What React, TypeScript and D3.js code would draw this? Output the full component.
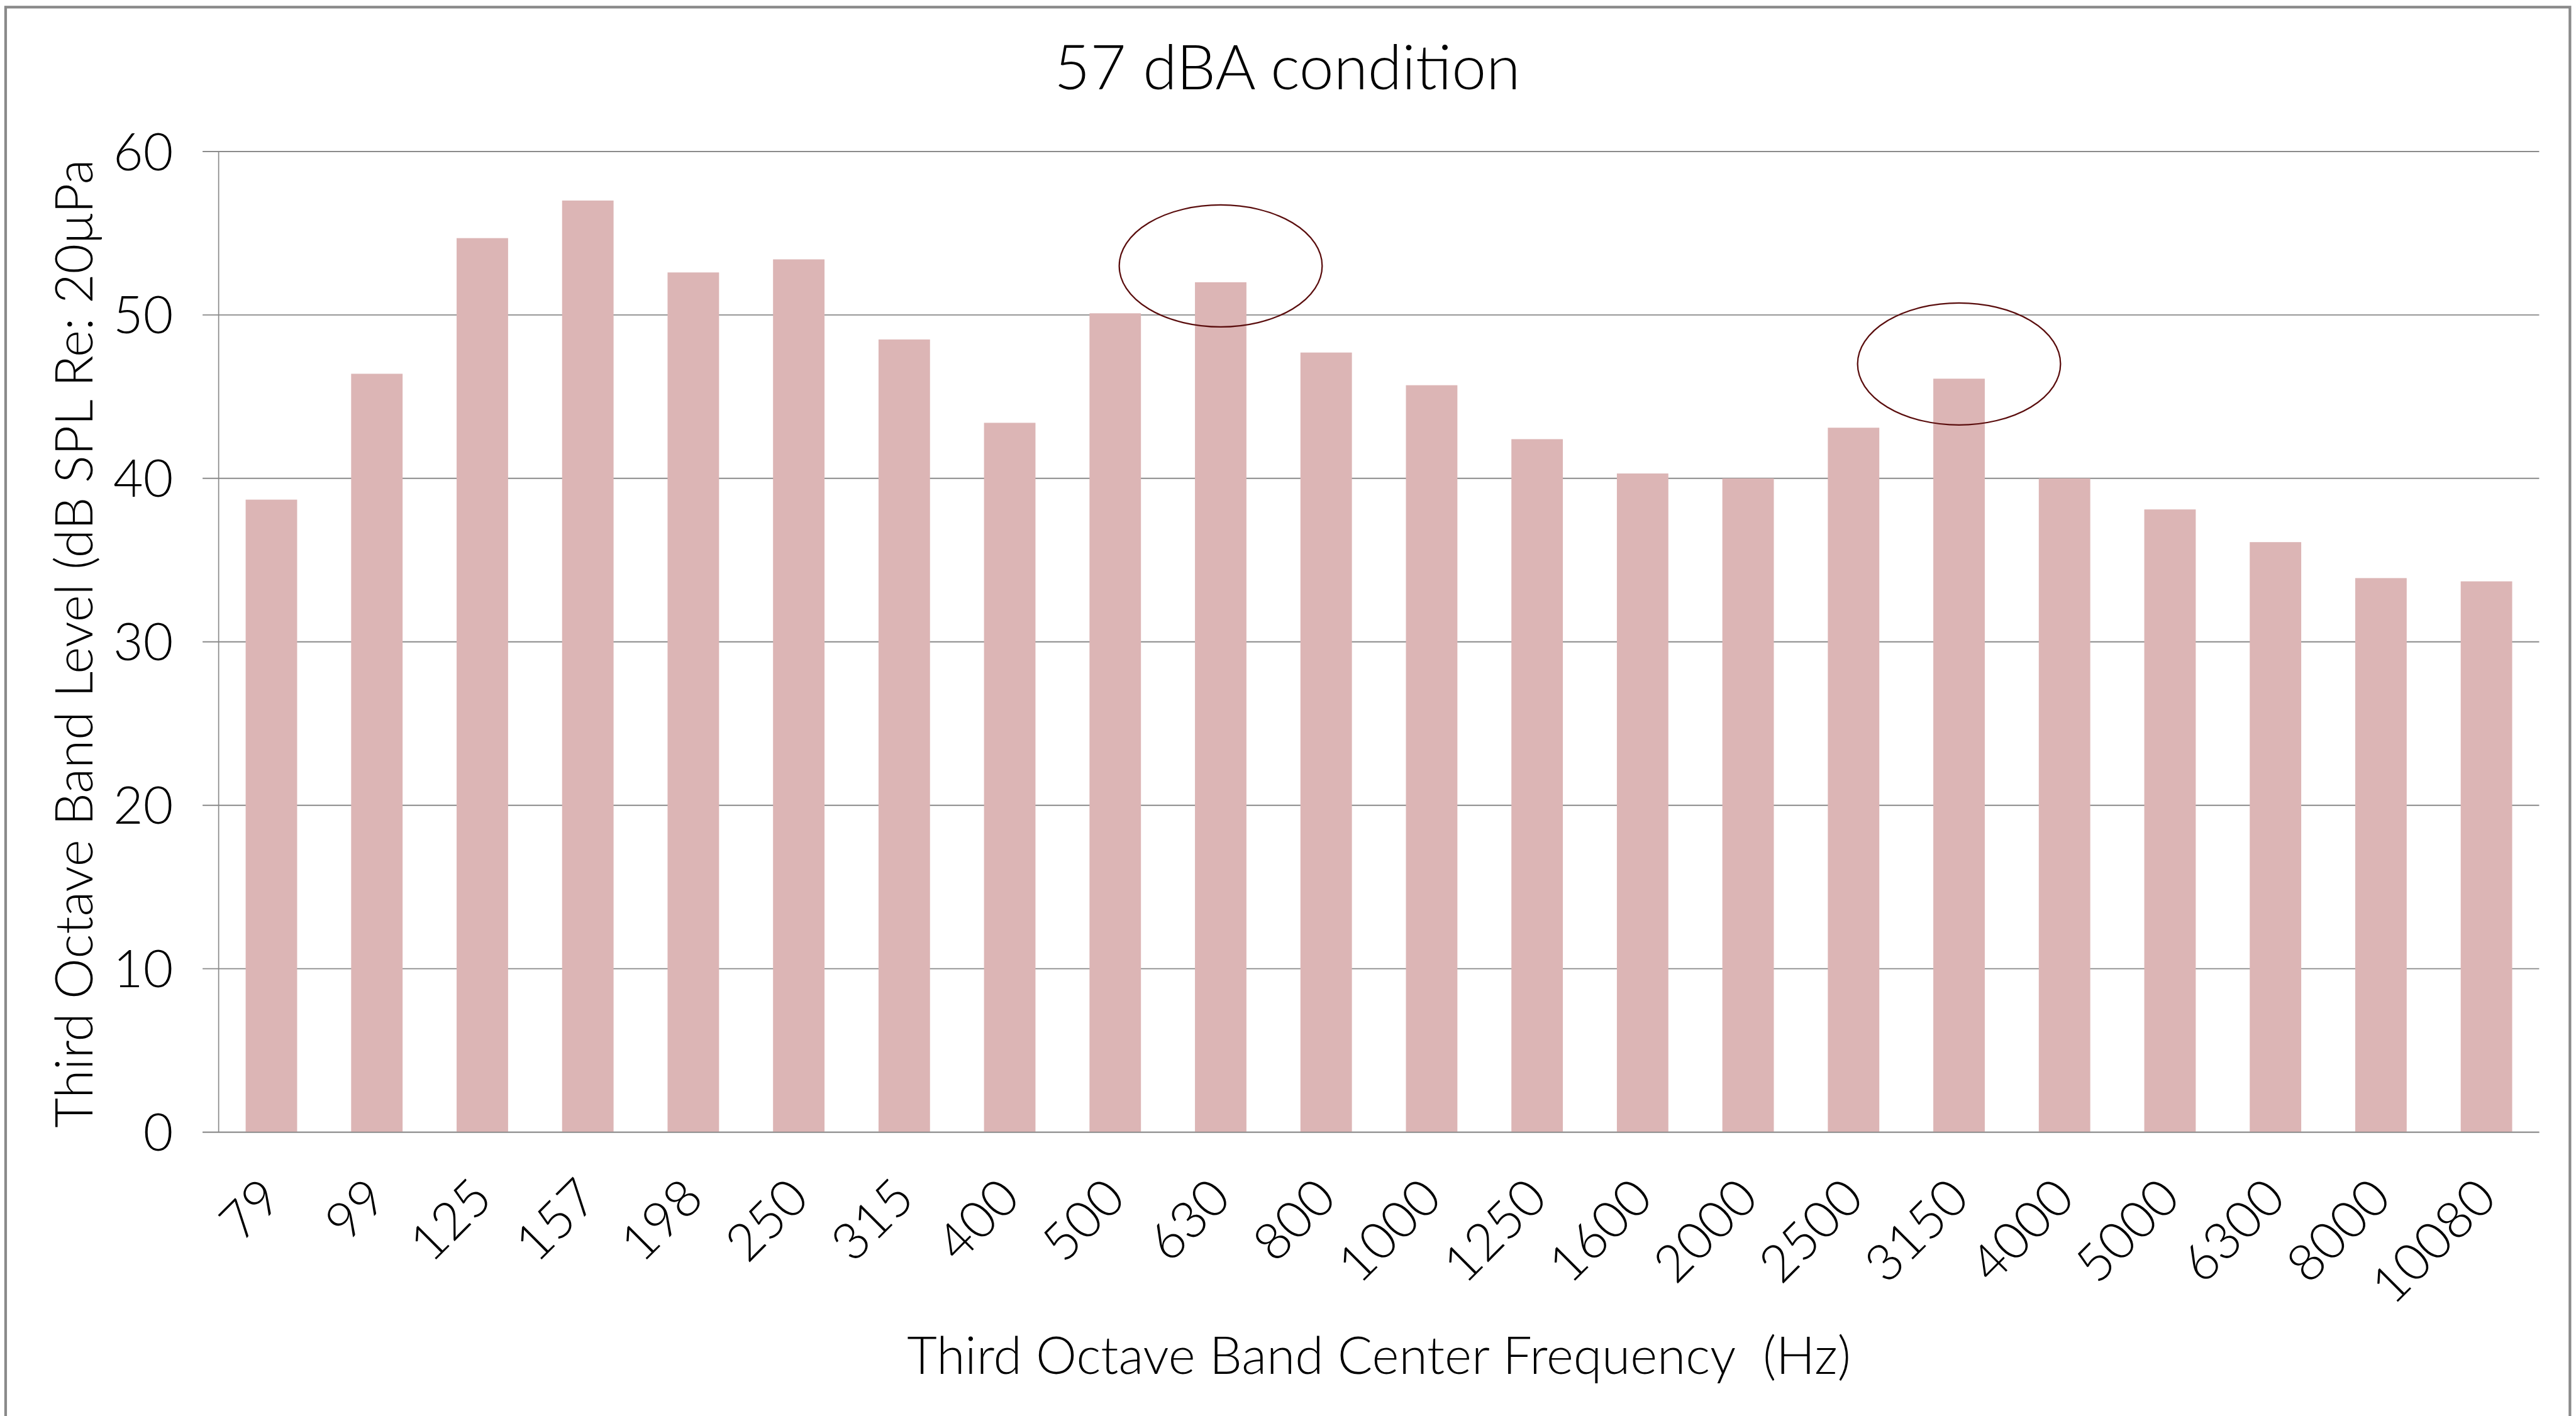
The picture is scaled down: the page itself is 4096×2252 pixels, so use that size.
import React from "react";
import * as d3 from "d3";

// Third-octave band centre frequencies (Hz)
const bands = [
  "79", "99", "125", "157", "198", "250", "315", "400", "500", "630", "800",
  "1000", "1250", "1600", "2000", "2500", "3150", "4000", "5000", "6300", "8000", "10080",
];

// Band levels, dB SPL re 20 µPa
const levels = [
  38.7, 46.4, 54.7, 57.0, 52.6, 53.4, 48.5, 43.4, 50.1, 52.0, 47.7,
  45.7, 42.4, 40.3, 40.0, 43.1, 46.1, 40.0, 38.1, 36.1, 33.9, 33.7,
];

const yTicks = [0, 10, 20, 30, 40, 50, 60];

// Bands ringed by an ellipse, with the level the ring is centred on
const ringedBands = ["630", "3150"];
const ringCentres = [53.0, 47.0];

const titleText = "57 dBA condition";
const yTitle = "Third Octave Band Level (dB SPL Re: 20μPa";
const xTitle = "Third Octave Band Center Frequency  (Hz)";

const W = 5779;
const H = 3178;
const plot = { left: 490, right: 5697, top: 340, bottom: 2541 };

const FONT = "Lato, 'Open Sans', sans-serif";
const GRID = "#8a8a8a";
const BAR = "#dcb5b5";
const RING = "#5a0d0d";

export default function App() {
  const x = d3
    .scaleBand<string>()
    .domain(bands)
    .range([plot.left, plot.right])
    .paddingInner(0.512)
    .paddingOuter(0.256);

  const y = d3.scaleLinear().domain([0, 60]).range([plot.bottom, plot.top]);

  const center = (b: string) => (x(b) as number) + x.bandwidth() / 2;
  const ringRx = x.step() * 0.962;
  const ringRy = y(0) - y(3.73);

  return (
    <svg
      width={4096}
      height={2252}
      viewBox={`0 0 ${W} ${H}`}
      style={{ position: "absolute", left: 0, top: 0, display: "block", background: "#fff" }}
    >
      <rect x={0} y={0} width={W} height={H} fill="#fff" />
      {/* chart frame */}
      <rect x={12} y={16} width={5754} height={H} fill="none" stroke={GRID} strokeWidth={6} />

      {/* title */}
      <text
        x={2888}
        y={200}
        textAnchor="middle"
        fontFamily={FONT}
        fontWeight={300}
        fontSize={139}
        fill="#000"
      >
        {titleText}
      </text>

      {/* horizontal gridlines and y tick labels */}
      {yTicks.map((t) => (
        <g key={t}>
          <line
            x1={454}
            x2={plot.right}
            y1={y(t)}
            y2={y(t)}
            stroke={GRID}
            strokeWidth={2.7}
          />
          <text
            x={388}
            y={y(t)}
            dy="0.36em"
            textAnchor="end"
            fontFamily={FONT}
            fontWeight={300}
            fontSize={116}
            fill="#000"
          >
            {t}
          </text>
        </g>
      ))}

      {/* vertical axis line */}
      <line
        x1={plot.left}
        x2={plot.left}
        y1={plot.top}
        y2={plot.bottom}
        stroke={GRID}
        strokeWidth={2.4}
      />

      {/* bars */}
      {bands.map((b, i) => (
        <rect
          key={b}
          x={x(b)}
          y={y(levels[i])}
          width={x.bandwidth()}
          height={y(0) - y(levels[i])}
          fill={BAR}
        />
      ))}

      {/* baseline redrawn over bar bottoms */}
      <line
        x1={454}
        x2={plot.right}
        y1={y(0)}
        y2={y(0)}
        stroke={GRID}
        strokeWidth={2.7}
      />

      {/* rotated category labels */}
      {bands.map((b) => {
        const ax = center(b) + 28;
        const ay = plot.bottom + 154;
        return (
          <text
            key={b}
            x={ax}
            y={ay}
            transform={`rotate(-45 ${ax} ${ay})`}
            textAnchor="end"
            fontFamily={FONT}
            fontWeight={300}
            fontSize={116}
            fill="#000"
          >
            {b}
          </text>
        );
      })}

      {/* ellipses around highlighted bands */}
      {ringedBands.map((b, i) => (
        <ellipse
          key={b}
          cx={center(b)}
          cy={y(ringCentres[i])}
          rx={ringRx}
          ry={ringRy}
          fill="none"
          stroke={RING}
          strokeWidth={3.2}
        />
      ))}

      {/* axis titles */}
      <text
        transform={`translate(207 ${(plot.top + plot.bottom) / 2 + 4}) rotate(-90)`}
        textAnchor="middle"
        fontFamily={FONT}
        fontWeight={300}
        fontSize={116}
        fill="#000"
      >
        {yTitle}
      </text>
      <text
        x={(plot.left + plot.right) / 2}
        y={3083}
        textAnchor="middle"
        fontFamily={FONT}
        fontWeight={300}
        fontSize={116}
        fill="#000"
        style={{ whiteSpace: "pre" }}
      >
        {xTitle}
      </text>
    </svg>
  );
}
